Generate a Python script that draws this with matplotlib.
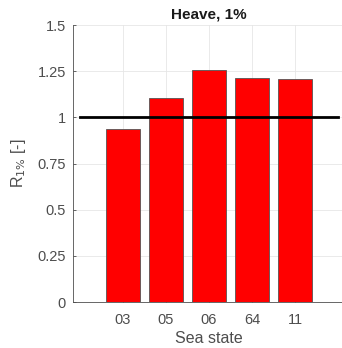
import matplotlib.pyplot as plt

plt.rcParams['font.family'] = ['Liberation Sans', 'DejaVu Sans']

# data
sea_states = ['03', '05', '06', '64', '11']
r_values = [0.938, 1.103, 1.254, 1.213, 1.206]
ref_level = 1.0

fig = plt.figure(figsize=(3.42, 3.48), dpi=100)
ax = fig.add_axes([0.2135, 0.132, 0.795, 0.796])

x = list(range(1, len(sea_states) + 1))
ax.bar(x, r_values, width=0.8, color='#ff0000', edgecolor='#555555', linewidth=0.6, zorder=2)
ax.plot([0, 6], [ref_level, ref_level], color='black', linewidth=2, zorder=3)

ax.set_xlim(-0.16, 6.16)
ax.set_ylim(0, 1.5)
ax.set_xticks(x)
ax.set_xticklabels(sea_states)
ax.set_yticks([0, 0.25, 0.5, 0.75, 1, 1.25, 1.5])
ax.set_yticklabels(['0', '0.25', '0.5', '0.75', '1', '1.25', '1.5'])

ax.grid(color='#e6e6e6', linewidth=0.6, zorder=0)
ax.set_axisbelow(True)
for s in ['top', 'right']:
    ax.spines[s].set_visible(False)
for s in ['left', 'bottom']:
    ax.spines[s].set_color('#4d4d4d')
    ax.spines[s].set_linewidth(0.6)
ax.tick_params(direction='in', length=2.5, width=0.6, colors='#4d4d4d', labelsize=10.5)
ax.tick_params(axis='x', pad=8)
ax.tick_params(axis='y', pad=5)

ax.set_title('Heave, 1%', fontsize=11, fontweight='bold', color='#1a1a1a', pad=5)
ax.set_xlabel('Sea state', fontsize=11.5, color='#4d4d4d', labelpad=3)
ax.set_ylabel('R$_{1\\%}$ [-]', fontsize=11.5, color='#4d4d4d', labelpad=7)

plt.savefig('out.png', dpi=100)
